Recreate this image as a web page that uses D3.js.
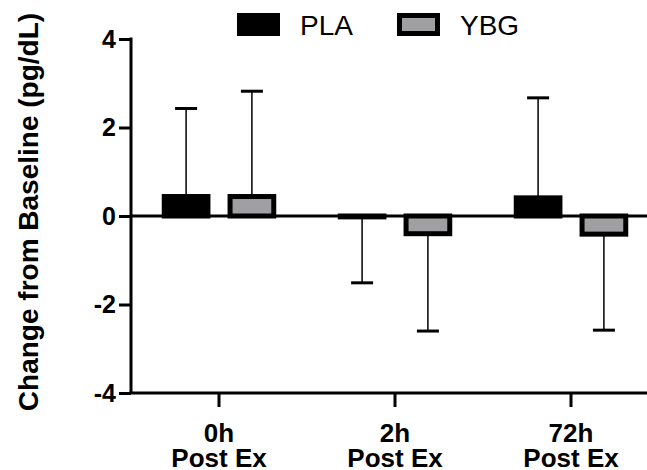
<!DOCTYPE html>
<html>
<head>
<meta charset="utf-8">
<script src="https://cdn.jsdelivr.net/npm/d3@7"></script>
<style>
  body { margin: 0; background: #fff; }
  text { font-family: Arial, "Liberation Sans", sans-serif; }
</style>
</head>
<body>
<svg id="chart" width="647" height="470"></svg>
<script>
// data
var groups = ['0h', '2h', '72h'];
var series = ['PLA', 'YBG'];
var plaMean = [0.44, -0.02, 0.41];
var plaSd = [1.99, 1.49, 2.26];
var ybgMean = [0.44, -0.40, -0.41];
var ybgSd = [2.38, 2.20, 2.17];
var yTicks = [-4, -2, 0, 2, 4];

var colors = { PLA: '#000', YBG: '#a0a0a2' };

var svg = d3.select('#chart');
var plotLeft = 131, plotTop = 39, plotBottom = 393;

var y = d3.scaleLinear().domain([-4, 4]).range([plotBottom, plotTop]);
var x0 = d3.scaleBand().domain(groups).range([plotLeft, plotLeft + 3 * 176]);
var x1 = d3.scaleBand().domain(series).range([-57.25, 57.25]).paddingInner(0.26);

var rows = [];
groups.forEach((g, i) => {
    rows.push({ g: g, s: 'PLA', m: plaMean[i], sd: plaSd[i] });
    rows.push({ g: g, s: 'YBG', m: ybgMean[i], sd: ybgSd[i] });
});

// zero line
svg.append('line')
    .attr('x1', plotLeft).attr('x2', 647)
    .attr('y1', y(0)).attr('y2', y(0))
    .attr('stroke', '#000').attr('stroke-width', 3);

var cx = (d) => x0(d.g) + x0.bandwidth() / 2 + x1(d.s) + x1.bandwidth() / 2;
var sw = 5;

// error bars (one-sided, away from zero)
var eb = svg.append('g');
rows.forEach((d) => {
    var end = d.m >= 0 ? d.m + d.sd : d.m - d.sd;
    eb.append('line')
        .attr('x1', cx(d)).attr('x2', cx(d))
        .attr('y1', y(d.m)).attr('y2', y(end))
        .attr('stroke', '#000').attr('stroke-width', 1.5);
    eb.append('line')
        .attr('x1', cx(d) - 11).attr('x2', cx(d) + 11)
        .attr('y1', y(end)).attr('y2', y(end))
        .attr('stroke', '#000').attr('stroke-width', 3);
});

// bars, border centred on the value edge
svg.append('g').selectAll('rect')
    .data(rows)
    .join('rect')
    .attr('x', (d) => cx(d) - (x1.bandwidth() - sw) / 2)
    .attr('width', x1.bandwidth() - sw)
    .attr('y', (d) => Math.min(y(d.m), y(0)))
    .attr('height', (d) => Math.max(0.5, Math.abs(y(d.m) - y(0))))
    .attr('fill', (d) => colors[d.s])
    .attr('stroke', '#000')
    .attr('stroke-width', sw);

// y axis
var yAxis = svg.append('g')
    .attr('transform', `translate(${plotLeft},0)`)
    .call(d3.axisLeft(y).tickValues(yTicks).tickSize(12).tickPadding(3).tickFormat((d) => String(d)));
yAxis.select('.domain').attr('stroke-width', 3).attr('d', `M0,${plotTop - 1.5}V${plotBottom}`);
yAxis.selectAll('.tick line').attr('stroke-width', 3);
yAxis.selectAll('.tick text')
    .style('font-size', '25px').style('font-weight', 'bold').attr('fill', '#000')
    .style('font-family', 'Arial, "Liberation Sans", sans-serif');

// x axis
var xAxis = svg.append('g')
    .attr('transform', `translate(0,${plotBottom})`)
    .call(d3.axisBottom(x0).tickSize(14).tickFormat(''));
xAxis.select('.domain').attr('stroke-width', 3).attr('d', `M${plotLeft - 1.5},0H647`);
xAxis.selectAll('.tick line').attr('stroke-width', 3);

groups.forEach((g) => {
    var cxg = x0(g) + x0.bandwidth() / 2;
    svg.append('text')
        .attr('x', cxg).attr('y', 442)
        .attr('text-anchor', 'middle')
        .attr('font-size', 26).attr('font-weight', 'bold')
        .text(g);
    svg.append('text')
        .attr('x', cxg).attr('y', 467)
        .attr('text-anchor', 'middle')
        .attr('font-size', 26).attr('font-weight', 'bold')
        .text('Post Ex');
});

// y title
svg.append('text')
    .attr('transform', 'translate(38,212) rotate(-90)')
    .attr('text-anchor', 'middle')
    .attr('font-size', 28).attr('font-weight', 'bold')
    .text('Change from Baseline (pg/dL)');

// legend
var legX = [237, 397];
series.forEach((s, i) => {
    svg.append('rect')
        .attr('x', legX[i] + 2.5).attr('y', 15.5)
        .attr('width', 38).attr('height', 18)
        .attr('fill', colors[s]).attr('stroke', '#000').attr('stroke-width', 5);
    svg.append('text')
        .attr('x', legX[i] + 63).attr('y', 35)
        .attr('font-size', 28)
        .text(s);
});
</script>
</body>
</html>
